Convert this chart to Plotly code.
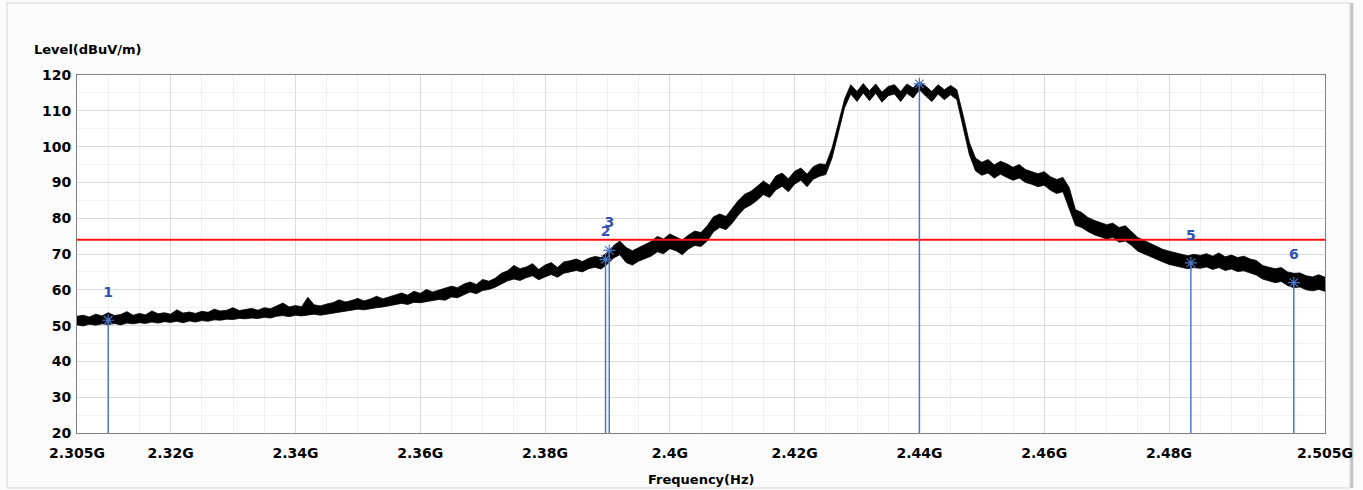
import plotly.graph_objects as go

# Sweep: 2.305 GHz to 2.505 GHz in 1 MHz steps (201 points)
SWEEP_START_MHZ = 2305
SWEEP_POINTS = 201
freq_ghz = [(SWEEP_START_MHZ + i) / 1000.0 for i in range(SWEEP_POINTS)]

# Upper / lower edge of the peak-hold trace at each sweep point (dBuV/m)
level_hi = [
    52.6, 52.9, 52.4, 53.2, 52.7, 53.6, 52.8, 53.1, 53.9, 52.9,
    53.4, 53.0, 54.1, 53.3, 53.6, 53.2, 54.4, 53.5, 53.8, 53.4,
    54.0, 53.7, 54.6, 54.1, 54.3, 55.0, 54.2, 54.5, 54.8, 54.3,
    55.0, 54.7, 55.4, 56.3, 55.2, 55.6, 55.3, 57.9, 55.8, 55.5,
    56.0, 56.4, 57.2, 56.6, 57.0, 57.6, 56.9, 57.4, 58.2, 57.5,
    58.0, 58.6, 59.1, 58.5, 59.6, 59.0, 60.1, 59.4, 59.9, 60.6,
    61.0, 60.6, 61.6, 62.2, 61.5, 62.9, 62.4, 63.2, 64.6, 65.3,
    66.8, 65.9, 66.4, 67.3, 65.7, 66.9, 67.6, 66.2, 67.8, 68.1,
    68.6, 67.9, 68.8, 69.3, 69.0, 70.6, 72.4, 73.6, 71.8, 70.9,
    71.8, 72.7, 73.5, 74.9, 74.2, 75.6, 74.8, 73.9, 75.3, 76.4,
    76.0, 77.9, 80.4, 81.2, 80.5, 82.6, 85.0, 86.7, 87.5, 88.9,
    90.4, 89.2, 91.8, 92.6, 91.0, 93.1, 94.0, 92.3, 94.4, 95.2,
    95.0, 99.6, 106.6, 113.2, 117.3, 115.4, 117.6, 115.6, 117.5, 115.2,
    116.8, 117.3, 115.4, 117.5, 116.4, 118.2, 116.9, 115.4, 117.3, 115.9,
    117.1, 115.9, 108.8, 101.2, 96.8, 95.6, 96.4, 94.9, 95.9, 95.2,
    94.2, 95.0, 93.6, 93.1, 92.4, 93.0, 91.6, 90.8, 91.4, 88.6,
    82.4, 81.6, 80.2, 79.4, 78.9, 78.2, 78.6, 77.4, 77.9, 76.3,
    74.6, 73.8, 72.9, 72.2, 71.3, 70.8, 70.4, 69.8, 69.5, 69.9,
    69.6, 70.1, 69.4, 70.3, 69.2, 69.7, 69.0, 69.4, 68.6, 68.2,
    66.8, 66.3, 65.9, 66.2, 65.0, 64.6, 64.7, 63.9, 63.6, 64.2, 63.5,
]
level_lo = [
    50.2, 49.9, 50.4, 50.1, 50.5, 50.3, 50.6, 50.2, 50.7, 50.5,
    50.8, 50.6, 51.0, 50.7, 51.1, 50.9, 51.2, 50.8, 51.3, 51.0,
    51.4, 51.2, 51.6, 51.5, 51.8, 51.7, 52.0, 51.9, 52.1, 52.0,
    52.3, 52.1, 52.6, 52.8, 52.5, 52.9, 52.7, 53.0, 53.2, 52.9,
    53.3, 53.6, 53.9, 54.0, 54.3, 54.6, 54.4, 54.8, 55.0, 55.2,
    55.5, 55.8, 56.2, 55.9, 56.5, 56.4, 56.8, 57.0, 57.3, 57.1,
    58.0, 57.8, 58.6, 59.4, 58.9, 59.8, 60.1, 60.7, 61.6, 62.5,
    63.0, 62.6, 63.4, 63.9, 62.8, 63.6, 64.3, 63.5, 64.6, 65.0,
    65.4, 65.0, 65.9, 66.3, 65.8, 67.2, 68.9, 69.8, 67.6, 66.9,
    68.0, 68.6, 69.4, 70.6, 70.1, 71.5, 70.9, 69.8, 71.4, 72.4,
    72.1, 73.6, 76.2, 77.4, 76.8, 78.6, 80.9, 82.8, 83.7, 85.0,
    86.6, 85.8, 87.9, 88.9, 87.4, 89.5, 90.6, 88.8, 90.9, 91.7,
    92.2, 96.8, 103.8, 110.8, 114.7, 112.6, 115.0, 112.8, 114.9, 112.4,
    114.2, 114.7, 112.6, 114.9, 113.6, 115.9, 114.1, 112.6, 114.7, 113.1,
    114.5, 113.1, 105.2, 97.8, 93.2, 92.0, 92.6, 91.2, 92.3, 91.4,
    90.6, 91.2, 90.0, 89.5, 88.8, 89.2, 87.8, 86.9, 87.4, 83.0,
    78.0, 77.4, 76.3, 75.4, 74.8, 74.2, 74.6, 73.3, 73.6, 72.4,
    70.8, 70.1, 69.2, 68.6, 67.8, 67.1, 66.8, 66.3, 65.9, 66.2,
    66.0, 66.4, 65.7, 66.2, 65.4, 65.8, 65.1, 65.3, 64.6, 64.1,
    63.0, 62.4, 62.0, 62.3, 61.2, 60.6, 60.8, 60.0, 59.7, 60.1, 59.6,
]

# Marker table
marker_ids = ["1", "2", "3", "4", "5", "6"]
marker_freq_ghz = [2.3100, 2.3897, 2.3903, 2.4400, 2.4835, 2.5000]
marker_level = [51.5, 68.5, 71.0, 117.5, 67.5, 62.0]

# Peak limit line
limit_level = 74.0

# Axis ticks
x_tickvals = [2.305, 2.32, 2.34, 2.36, 2.38, 2.40, 2.42, 2.44, 2.46, 2.48, 2.505]
x_ticktext = ["2.305G", "2.32G", "2.34G", "2.36G", "2.38G", "2.4G", "2.42G",
              "2.44G", "2.46G", "2.48G", "2.505G"]
y_tickvals = [20, 30, 40, 50, 60, 70, 80, 90, 100, 110, 120]

X_MIN, X_MAX = 2.305, 2.505
Y_MIN, Y_MAX = 20, 120

FONT = "DejaVu Sans"
MARK_BLUE = "#4a78c8"
LABEL_BLUE = "#3050b8"

fig = go.Figure()

# Spectrum trace as a closed band between its lower and upper edges
fig.add_trace(go.Scatter(
    x=freq_ghz + freq_ghz[::-1],
    y=level_hi + level_lo[::-1],
    mode="lines",
    fill="toself",
    fillcolor="black",
    line=dict(color="black", width=0.8),
    hoverinfo="skip",
    showlegend=False,
))

# Limit line
fig.add_trace(go.Scatter(
    x=[X_MIN, X_MAX],
    y=[limit_level, limit_level],
    mode="lines",
    line=dict(color="#ff1010", width=2),
    showlegend=False,
))

# Marker drop lines from the bottom of the grid up to each marker level
for f, lv in zip(marker_freq_ghz, marker_level):
    fig.add_trace(go.Scatter(
        x=[f, f],
        y=[Y_MIN, lv],
        mode="lines",
        line=dict(color=MARK_BLUE, width=1.5),
        showlegend=False,
        hoverinfo="skip",
    ))

# Marker symbols
fig.add_trace(go.Scatter(
    x=marker_freq_ghz,
    y=marker_level,
    mode="markers",
    marker=dict(symbol="asterisk-open", size=10, color=MARK_BLUE,
                line=dict(color=MARK_BLUE, width=1.2)),
    showlegend=False,
))

# Marker numbers: a transparent, oversized marker pushes the text up;
# text is clipped at the plot edge like the instrument display
fig.add_trace(go.Scatter(
    x=marker_freq_ghz,
    y=marker_level,
    mode="markers+text",
    marker=dict(size=30, color="rgba(0,0,0,0)"),
    text=[f"<b>{m}</b>" for m in marker_ids],
    textposition="top center",
    textfont=dict(family=FONT, size=14, color=LABEL_BLUE),
    cliponaxis=True,
    hoverinfo="skip",
    showlegend=False,
))

fig.update_layout(
    width=1363,
    height=490,
    margin=dict(l=77, r=38, t=75, b=57),
    paper_bgcolor="#fbfbfb",
    plot_bgcolor="white",
    font=dict(family=FONT, size=13, color="black"),
    xaxis=dict(
        range=[X_MIN, X_MAX],
        tickvals=x_tickvals,
        ticktext=x_ticktext,
        tickfont=dict(family=FONT, size=14, color="black", weight="bold"),
        ticklabelstandoff=7,
        showgrid=True,
        gridcolor="#dcdcdc",
        gridwidth=1,
        minor=dict(dtick=0.005, showgrid=True, gridcolor="#f0f0f0", gridwidth=1),
        zeroline=False,
        showline=True,
        linecolor="#808080",
        linewidth=1,
        mirror=True,
        ticks="",
        ticklen=0,
        automargin=False,
    ),
    yaxis=dict(
        range=[Y_MIN, Y_MAX],
        tickvals=y_tickvals,
        tickfont=dict(family=FONT, size=14, color="black", weight="bold"),
        ticklabelstandoff=2,
        showgrid=True,
        gridcolor="#dcdcdc",
        gridwidth=1,
        minor=dict(dtick=5, showgrid=True, gridcolor="#f2f2f2", gridwidth=1),
        zeroline=False,
        showline=True,
        linecolor="#808080",
        linewidth=1,
        mirror=True,
        ticks="",
        ticklen=0,
        automargin=False,
    ),
    annotations=[
        dict(
            text="<b>Level(dBuV/m)</b>",
            xref="paper", yref="paper",
            x=-0.036, y=1.0, xanchor="left", yanchor="bottom",
            yshift=16,
            showarrow=False,
            font=dict(family=FONT, size=13, color="black"),
        ),
        dict(
            text="<b>Frequency(Hz)</b>",
            xref="paper", yref="paper",
            x=0.5, y=0.0, xanchor="center", yanchor="middle",
            yshift=-46,
            showarrow=False,
            font=dict(family=FONT, size=13, color="black"),
        ),
    ],
    shapes=[
        dict(type="rect", xref="paper", yref="paper",
             x0=-0.056, x1=1.020, y0=-0.1536, y1=1.201,
             line=dict(color="#d6d6d6", width=1), layer="below"),
        dict(type="line", xref="paper", yref="paper",
             x0=1.0215, x1=1.0215, y0=-0.1536, y1=1.201,
             line=dict(color="#c4c4c4", width=3), layer="below"),
    ],
)

fig.write_html("out.html")
